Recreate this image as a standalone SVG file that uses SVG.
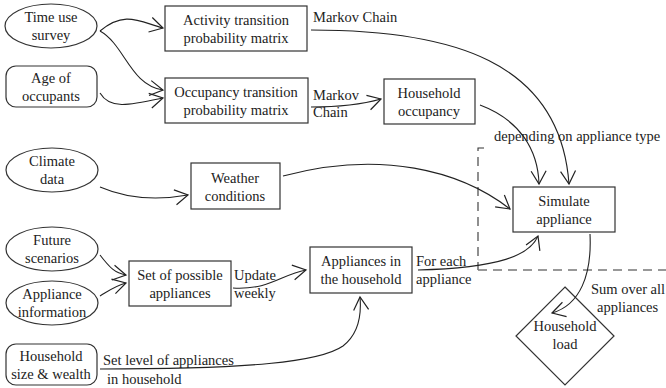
<svg xmlns="http://www.w3.org/2000/svg" width="666" height="388" viewBox="0 0 666 388">
  <style>
    .node { fill: #fff; stroke: #333; stroke-width: 1.2; }
    text { font-family: "Liberation Serif", "Times New Roman", serif; font-size: 14.5px; fill: #222; }
    .mid { text-anchor: middle; }
    .edge { fill: none; stroke: #222; stroke-width: 1.1; }
    .dash-v { fill: none; stroke: #333; stroke-width: 1.1; stroke-dasharray: 9 6; }
    .dash-h { fill: none; stroke: #777; stroke-width: 1.3; stroke-dasharray: 9 6; }
  </style>
  <defs>
    <!-- open V arrowhead -->
    <marker id="arrow" viewBox="-14 -9 16 18" refX="0" refY="0" markerWidth="16" markerHeight="18" markerUnits="userSpaceOnUse" orient="auto">
      <path d="M-13,-7.5 L0,0 L-13,7.5" fill="none" stroke="#222" stroke-width="1.2"/>
    </marker>
  </defs>

  <rect width="666" height="388" fill="#fff"/>

  <!-- input data -->
  <g id="time-use-survey">
    <ellipse class="node" cx="51" cy="26" rx="46" ry="22"/>
    <text class="mid" x="51" y="22">Time use</text>
    <text class="mid" x="51" y="40">survey</text>
  </g>
  <g id="age-of-occupants">
    <rect class="node" x="6" y="66" width="91" height="41" rx="10"/>
    <text class="mid" x="51" y="83">Age of</text>
    <text class="mid" x="51" y="101">occupants</text>
  </g>
  <g id="climate-data">
    <ellipse class="node" cx="52" cy="170" rx="46" ry="22"/>
    <text class="mid" x="52" y="166">Climate</text>
    <text class="mid" x="52" y="184">data</text>
  </g>
  <g id="future-scenarios">
    <ellipse class="node" cx="52" cy="249" rx="46" ry="22"/>
    <text class="mid" x="52" y="245">Future</text>
    <text class="mid" x="52" y="263">scenarios</text>
  </g>
  <g id="appliance-information">
    <ellipse class="node" cx="52" cy="303" rx="46" ry="22"/>
    <text class="mid" x="52" y="299">Appliance</text>
    <text class="mid" x="52" y="317">information</text>
  </g>
  <g id="household-size-wealth">
    <rect class="node" x="6" y="344" width="91" height="41" rx="10"/>
    <text class="mid" x="51" y="361">Household</text>
    <text class="mid" x="51" y="379">size &amp; wealth</text>
  </g>

  <!-- processing steps -->
  <g id="activity-matrix">
    <rect class="node" x="165" y="6" width="142" height="45"/>
    <text class="mid" x="236" y="25">Activity transition</text>
    <text class="mid" x="236" y="43">probability matrix</text>
  </g>
  <g id="occupancy-matrix">
    <rect class="node" x="165" y="78" width="143" height="45"/>
    <text class="mid" x="236" y="97">Occupancy transition</text>
    <text class="mid" x="236" y="115">probability matrix</text>
  </g>
  <g id="household-occupancy">
    <rect class="node" x="384" y="79" width="91" height="45"/>
    <text class="mid" x="429" y="98">Household</text>
    <text class="mid" x="429" y="116">occupancy</text>
  </g>
  <g id="weather-conditions">
    <rect class="node" x="191" y="163" width="89" height="46"/>
    <text class="mid" x="235" y="183">Weather</text>
    <text class="mid" x="235" y="201">conditions</text>
  </g>
  <g id="possible-appliances">
    <rect class="node" x="129" y="261" width="102" height="45"/>
    <text class="mid" x="180" y="280">Set of possible</text>
    <text class="mid" x="180" y="298">appliances</text>
  </g>
  <g id="appliances-in-household">
    <rect class="node" x="310" y="247" width="102" height="46"/>
    <text class="mid" x="361" y="266">Appliances in</text>
    <text class="mid" x="361" y="284">the household</text>
  </g>
  <g id="simulate-appliance">
    <rect class="node" x="513" y="187" width="102" height="45"/>
    <text class="mid" x="564" y="206">Simulate</text>
    <text class="mid" x="564" y="224">appliance</text>
  </g>
  <g id="household-load">
    <polygon class="node" points="565,287 614,336 565,385 516,336"/>
    <text class="mid" x="565" y="331">Household</text>
    <text class="mid" x="565" y="349">load</text>
  </g>

  <!-- per-appliance loop boundary -->
  <path class="dash-v" d="M484,148 H478 V270"/>
  <path class="dash-h" d="M478,270 H666"/>

  <!-- connectors -->
  <g id="connectors">
    <path class="edge" d="M100,31 C125,10 140,22 163,28" marker-end="url(#arrow)"/>
    <path class="edge" d="M100,31 C125,45 130,85 163,90" marker-end="url(#arrow)"/>
    <path class="edge" d="M100,93 C110,110 130,105 163,98" marker-end="url(#arrow)"/>
    <path class="edge" d="M311,30 C450,30 560,60 569,184" marker-end="url(#arrow)"/>
    <path class="edge" d="M311,107 C340,107 360,105 381,99" marker-end="url(#arrow)"/>
    <path class="edge" d="M480,105 C520,120 538,150 539,184" marker-end="url(#arrow)"/>
    <path class="edge" d="M100,187 C130,200 160,200 188,195" marker-end="url(#arrow)"/>
    <path class="edge" d="M283,176 C380,150 460,170 510,209" marker-end="url(#arrow)"/>
    <path class="edge" d="M100,255 C110,268 115,273 126,275" marker-end="url(#arrow)"/>
    <path class="edge" d="M100,296 C110,290 115,286 126,283" marker-end="url(#arrow)"/>
    <path class="edge" d="M233,288 C270,290 280,275 306,270" marker-end="url(#arrow)"/>
    <path class="edge" d="M100,369 C250,369 320,362 343,346 C356,336 362,320 360,297" marker-end="url(#arrow)"/>
    <path class="edge" d="M418,270 C500,268 530,255 538,236" marker-end="url(#arrow)"/>
    <path class="edge" d="M590,234 C592,275 580,305 552,313" marker-end="url(#arrow)"/>
  </g>

  <!-- connector labels -->
  <g id="edge-labels">
    <text x="313" y="22">Markov Chain</text>
    <text x="313" y="100">Markov</text>
    <text x="313" y="117">Chain</text>
    <text x="494" y="141">depending on appliance type</text>
    <text x="234" y="280">Update</text>
    <text x="234" y="298">weekly</text>
    <text x="416" y="266">For each</text>
    <text x="416" y="284">appliance</text>
    <text x="591" y="294">Sum over all</text>
    <text x="597" y="312">appliances</text>
    <text x="103" y="365">Set level of appliances</text>
    <text x="107" y="384">in household</text>
  </g>
</svg>
